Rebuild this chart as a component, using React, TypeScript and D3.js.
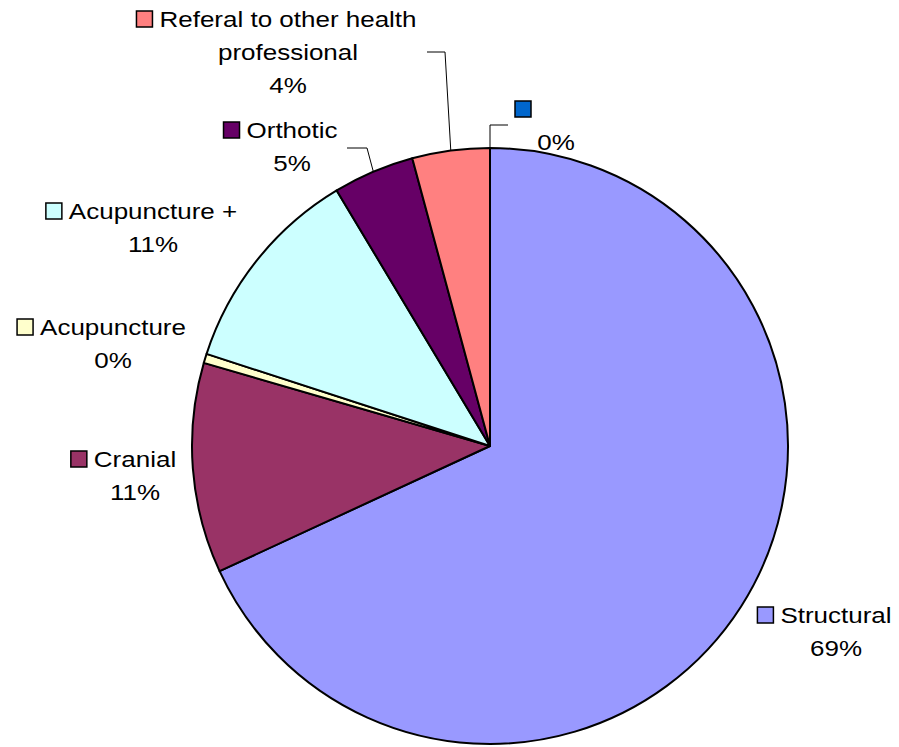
import React, { useEffect, useRef } from 'react';
import * as d3 from 'd3';

const categories = ['Structural', 'Cranial', 'Acupuncture', 'Acupuncture +', 'Orthotic', 'Referal to other health professional', ''];
const values = [68.1, 11.4, 0.5, 11.4, 4.4, 4.2, 0];
const pctLabels = ['69%', '11%', '0%', '11%', '5%', '4%', '0%'];
const colors = ['#9999FF', '#993366', '#FFFFCC', '#CCFFFF', '#660066', '#FF8080', '#0066CC'];

// label layout: centre x of the text, baseline of first line, split lines of the name
const labelLayout = [
    { cx: 836, y: 623, lines: ['Structural'] },
    { cx: 135, y: 467, lines: ['Cranial'] },
    { cx: 113, y: 335, lines: ['Acupuncture'] },
    { cx: 153, y: 219, lines: ['Acupuncture +'] },
    { cx: 292, y: 138, lines: ['Orthotic'] },
    { cx: 288, y: 27, lines: ['Referal to other health', 'professional'] },
    { cx: 556, y: 117, lines: [''] },
];
// elbow points of the leader lines (slice index -> [start, elbow])
const leaders: { [k: number]: [number, number][] } = {
    4: [[347, 148], [367, 148]],
    5: [[427, 52], [445, 52]],
    6: [[508, 125], [490, 125]],
};

const width = 899;
const height = 747;
const cx = 490;
const cy = 446;
const radius = 298;
const lineH = 33;
const squash = 0.85;

export default function App() {
    const svgRef = useRef<SVGSVGElement>(null);

    useEffect(() => {
        const svg = d3.select(svgRef.current);
        svg.selectAll('*').remove();

        const pie = d3.pie<number>().sort(null).value(d => d);
        const arcs = pie(values);
        const arc = d3.arc<d3.PieArcDatum<number>>().innerRadius(0).outerRadius(radius);

        const g = svg.append('g').attr('transform', `translate(${cx},${cy})`);
        g.selectAll('path')
            .data(arcs)
            .join('path')
            .attr('d', arc)
            .attr('fill', (d, i) => colors[i])
            .attr('stroke', '#000')
            .attr('stroke-width', 2)
            .attr('stroke-linejoin', 'round');

        // leader lines
        Object.keys(leaders).forEach(k => {
            const i = +k;
            const a = (arcs[i].startAngle + arcs[i].endAngle) / 2;
            const end: [number, number] = [cx + radius * Math.sin(a), cy - radius * Math.cos(a)];
            svg.append('path')
                .attr('d', d3.line()([...leaders[i], end]))
                .attr('fill', 'none')
                .attr('stroke', '#000')
                .attr('stroke-width', 1);
        });

        const font = 'Liberation Sans, Arial, sans-serif';
        labelLayout.forEach((lab, i) => {
            const lg = svg.append('g');
            let firstW = 0;
            const rows = [...lab.lines, pctLabels[i]];
            rows.forEach((txt, j) => {
                const t = lg.append('text')
                    .attr('transform', `translate(${lab.cx},${lab.y + j * lineH}) scale(1,${squash})`)
                    .attr('text-anchor', 'middle')
                    .attr('font-family', font)
                    .attr('font-size', 26)
                    .attr('fill', '#000')
                    .text(txt);
                if (j === 0) firstW = (t.node() as SVGTextElement).getComputedTextLength();
            });
            const sx = lab.lines[0] === '' ? lab.cx - 41 : lab.cx - firstW / 2 - 23;
            lg.append('rect')
                .attr('x', sx)
                .attr('y', lab.y - 16)
                .attr('width', 16)
                .attr('height', 16)
                .attr('fill', colors[i])
                .attr('stroke', '#000')
                .attr('stroke-width', 1.5);
        });
    }, []);

    return (
        <svg ref={svgRef} width={width} height={height}
            style={{ position: 'absolute', left: 0, top: 0, background: '#fff' }}></svg>
    );
}
